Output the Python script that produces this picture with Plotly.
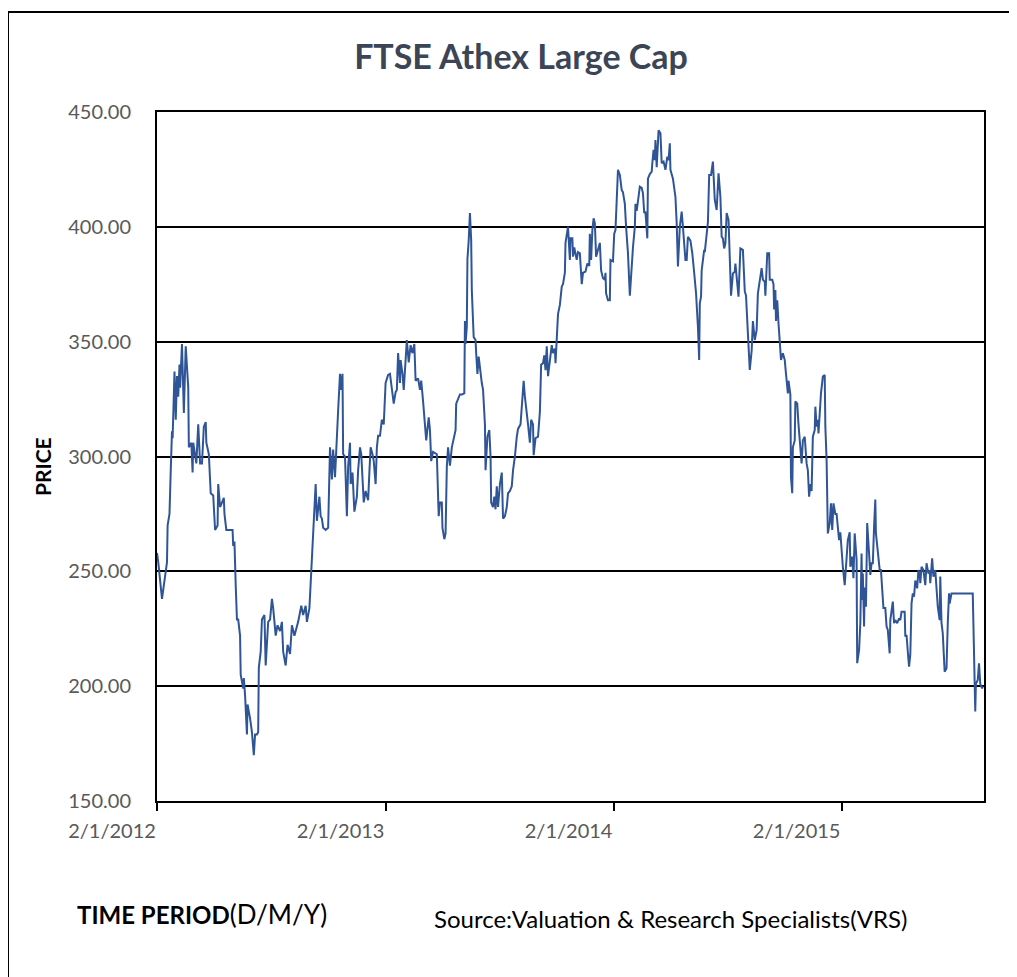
import pandas as pd
import plotly.graph_objects as go

START_DATE = "2012-01-02"
# trading-day positions as calendar days since 2 Jan 2012
day_offset = [
    0, 2, 8, 16, 17, 20, 22, 24, 25, 28, 30, 32, 34, 36, 37, 40, 43, 46, 50, 51,
    55, 57, 58, 63, 66, 69, 72, 75, 78, 79, 83, 86, 90, 93, 97, 98, 101, 107, 108, 111,
    117, 121, 122, 124, 126, 128, 130, 133, 134, 138, 139, 141, 144, 145, 149, 152, 155, 157, 160, 162,
    163, 166, 168, 172, 174, 178, 181, 184, 186, 190, 193, 197, 200, 202, 206, 209, 213, 216, 220, 226,
    231, 234, 238, 240, 244, 246, 248, 251, 254, 256, 260, 262, 264, 266, 270, 274, 275, 277, 280, 282,
    285, 288, 290, 293, 295, 297, 298, 301, 304, 306, 309, 310, 313, 316, 320, 322, 325, 327, 329, 331,
    334, 338, 340, 342, 345, 347, 350, 352, 354, 357, 360, 363, 366, 370, 373, 375, 379, 382, 384, 386,
    389, 390, 393, 395, 398, 400, 403, 406, 409, 412, 414, 418, 421, 423, 426, 429, 431, 435, 437, 439,
    442, 448, 450, 451, 453, 456, 457, 460, 462, 464, 466, 469, 472, 477, 478, 479, 482, 485, 488, 492,
    493, 494, 496, 497, 499, 501, 503, 504, 507, 510, 511, 513, 515, 518, 520, 522, 525, 526, 529, 532,
    534, 535, 538, 540, 542, 544, 546, 549, 552, 554, 557, 560, 562, 565, 568, 570, 573, 576, 578, 582,
    585, 587, 589, 591, 594, 597, 599, 602, 603, 606, 610, 613, 615, 618, 620, 622, 624, 626, 629, 632,
    634, 637, 638, 640, 642, 645, 648, 650, 653, 654, 658, 661, 662, 665, 666, 668, 672, 674, 677, 680,
    682, 686, 689, 692, 693, 695, 697, 699, 701, 703, 706, 709, 711, 714, 717, 718, 719, 722, 725, 726,
    730, 732, 734, 737, 738, 741, 744, 746, 749, 751, 754, 757, 759, 762, 765, 766, 768, 770, 773, 776,
    778, 780, 782, 785, 786, 789, 792, 793, 795, 797, 798, 800, 802, 803, 806, 808, 811, 814, 817, 819,
    821, 822, 826, 829, 830, 832, 834, 837, 840, 842, 846, 848, 850, 854, 857, 860, 863, 866, 868, 869,
    871, 872, 876, 877, 880, 882, 884, 887, 890, 893, 896, 899, 902, 904, 906, 908, 910, 912, 915, 917,
    919, 922, 925, 926, 929, 931, 934, 938, 941, 943, 946, 949, 952, 954, 957, 960, 962, 965, 968, 970,
    973, 974, 976, 977, 980, 981, 985, 987, 988, 990, 991, 993, 995, 997, 999, 1002, 1005, 1007, 1010, 1011,
    1014, 1015, 1017, 1018, 1021, 1022, 1025, 1027, 1029, 1032, 1034, 1037, 1040, 1042, 1044, 1046, 1048, 1050, 1053, 1054,
    1056, 1058, 1059, 1061, 1063, 1066, 1069, 1070, 1072, 1074, 1077, 1079, 1081, 1083, 1086, 1088, 1092, 1094, 1095, 1098,
    1101, 1104, 1106, 1109, 1110, 1113, 1115, 1117, 1120, 1121, 1124, 1126, 1128, 1129, 1130, 1132, 1133, 1135, 1137, 1140,
    1142, 1144, 1146, 1148, 1150, 1151, 1154, 1157, 1159, 1161, 1163, 1166, 1168, 1170, 1173, 1174, 1178, 1180, 1182, 1185,
    1188, 1190, 1192, 1195, 1197, 1198, 1200, 1202, 1204, 1206, 1208, 1210, 1212, 1214, 1217, 1219, 1221, 1222, 1224, 1227,
    1230, 1232, 1235, 1237, 1238, 1241, 1243, 1246, 1248, 1250, 1253, 1254, 1256, 1258, 1261, 1264, 1266, 1268, 1269, 1272,
    1306, 1309, 1310, 1311, 1314, 1316, 1318, 1321, 1322,
]

price = [
    258, 254, 238, 254, 270, 275, 294, 311, 308, 337, 316, 335, 326, 340, 330, 349, 319, 348, 330, 304,
    306, 293, 306, 297, 314, 297, 297, 313, 315, 306, 301, 284, 283, 268, 270, 288, 278, 282, 275, 268,
    268, 268, 261, 263, 244, 229, 229, 222, 205, 199, 203.5, 196, 179, 192, 186, 180, 170, 179, 179, 180,
    208, 215, 229, 231, 209, 228, 229, 238, 234, 222, 226.5, 224, 228, 215, 209, 218, 214, 226.5, 222, 228,
    235, 231, 235, 228, 234, 246, 251, 272, 288, 272, 282.5, 274, 273, 269, 268, 269, 284, 304, 290, 303,
    291, 313, 320, 336, 329, 336, 301, 300, 274, 295.5, 306, 288, 293, 276, 282.5, 294, 304, 301, 290, 280,
    285, 281, 293, 304, 301, 298, 288, 304, 309, 309, 316, 314, 332, 335.5, 336, 332, 323, 328, 329, 345,
    332, 342, 336, 329, 340.5, 350.7, 341, 348.5, 345, 349, 333, 334, 329, 333, 324, 314, 307, 317, 311.5, 298,
    302, 301, 280, 274, 280, 280, 269, 264, 266.5, 295.5, 304, 296, 304, 310, 311.5, 323, 325, 327, 327, 327.5,
    359, 349, 356.5, 386, 394, 406, 394, 372.5, 352, 350.7, 345, 336, 343.5, 336, 332, 329, 314, 294, 308.6, 311.5,
    300, 280, 278, 282.5, 277, 287, 278, 288, 293, 273, 274, 278, 284, 285, 287, 294, 300, 308.6, 312, 314,
    327.5, 333, 326, 320, 314, 306, 316, 314, 300.6, 308, 308.6, 319.5, 340, 340.6, 344, 337.6, 348, 335, 342, 348.5,
    345, 347, 340.6, 355, 362, 366, 374, 375, 380, 393, 400, 385.6, 395, 395, 387, 391, 385.6, 389, 388.5, 375,
    380, 380.5, 384, 383, 397, 385.6, 398.6, 403.7, 401.5, 387, 390, 393, 381, 377.6, 377, 380, 371, 368, 368, 385.6,
    385, 397, 398.6, 414.6, 424.8, 422.6, 416, 415, 410, 400, 388.5, 370, 381, 391, 400, 410, 407, 411, 417.5, 417,
    414.6, 406, 406.6, 395, 421, 423, 424, 427.7, 433.5, 429, 437.8, 426, 435.6, 442, 440.7, 427.7, 428.4, 424.8, 430.6, 429,
    436.4, 424.8, 421, 416, 413, 401.5, 382.7, 400, 406.6, 400, 385.6, 385.6, 395.7, 394, 388.5, 380, 371, 356.5, 342, 366.7,
    369.6, 381, 390, 389, 398.6, 402, 422.6, 422.6, 428.4, 411.7, 407.3, 423.3, 413, 395.7, 395, 390.6, 392.8, 406, 403, 385.6,
    370, 379.7, 380.5, 384, 374, 369.6, 390.6, 390, 372, 370, 353.6, 337.7, 346, 359, 350.7, 355, 371, 377, 382, 377,
    376, 370, 380, 388.5, 388.5, 377, 377, 375, 364, 372.5, 359, 368, 358, 350.7, 342, 345, 342, 336, 327.5, 333,
    327, 291, 284, 304, 307, 324, 323, 314, 306, 297, 307, 308.6, 297, 294, 282.5, 288, 285, 308.6, 311.5, 321.7,
    313, 316, 310, 319, 327.5, 334.8, 335.5, 313, 298.5, 266.5, 271, 279.6, 268, 279.6, 275, 275, 263.6, 267, 262, 252,
    244, 256.4, 263.6, 267, 252, 256.4, 247, 266.5, 255, 210, 215.7, 227.4, 257.8, 237.5, 249, 226, 243, 234.6, 271, 257.8,
    248.4, 253.5, 253.5, 269.4, 281.3, 266.5, 257.8, 250.6, 250.6, 243, 234, 234, 226, 224.5, 214.3, 228.8, 236.8, 227.4, 228.8, 227.4,
    229.5, 228.8, 232.4, 232.4, 232.4, 221.6, 222.3, 215, 208.5, 213.6, 236, 240.4, 239, 246, 242.6, 250.6, 249, 244.8, 252, 250.6,
    244, 253.5, 249, 250.6, 244.8, 255.7, 247.7, 250.6, 243.3, 234.6, 228.8, 247.7, 227.4, 223, 206.3, 207.8, 227.4, 240.4, 236, 240.4,
    240.4, 205.6, 189, 201, 202.7, 210, 201, 199, 200,
]

tick_dates = ["2012-01-02", "2013-01-02", "2014-01-02", "2015-01-02"]
tick_labels = ["2/1/2012", "2/1/2013", "2/1/2014", "2/1/2015"]
y_ticks = [150, 200, 250, 300, 350, 400, 450]

dates = pd.Timestamp(START_DATE) + pd.to_timedelta(day_offset, unit="D")

FONT = "Lato"
GRAY = "#595959"

# page body has an 8px margin; plot area targets screen x 157..984, y 112..801
W, H = 1009, 969
OFF = 8
PL, PR, PT, PB = 157, 984, 112, 801


def px(x):
    return (x - PL) / (PR - PL)


def py(y):
    return (PB - y) / (PB - PT)


fig = go.Figure()
fig.add_trace(go.Scatter(
    x=dates, y=price, mode="lines",
    line=dict(color="#2F5597", width=2),
    showlegend=False, hoverinfo="x+y",
))

fig.update_layout(
    width=W, height=H,
    margin=dict(l=PL - OFF, r=OFF + W - PR, t=PT - OFF, b=OFF + H - PB),
    paper_bgcolor="white", plot_bgcolor="white",
    title=dict(
        text="<b>FTSE Athex Large Cap</b>",
        x=(521 - OFF) / W, xref="container", xanchor="center",
        y=1 - (57 - OFF) / H, yref="container", yanchor="middle",
        font=dict(family=FONT, size=34, color="#3B4556"),
    ),
    xaxis=dict(
        type="date",
        range=["2012-01-02", "2015-08-18"],
        tickvals=tick_dates, ticktext=tick_labels,
        ticks="outside", ticklen=8, tickwidth=1.5, tickcolor="black",
        ticklabelshift=-45, ticklabelstandoff=3,
        showgrid=False, zeroline=False,
        showline=True, linecolor="black", linewidth=1.5, mirror=True,
        tickfont=dict(family=FONT, size=20, color=GRAY),
    ),
    yaxis=dict(
        range=[150, 450],
        tickvals=y_ticks, tickformat=".2f",
        ticks="", ticklabelstandoff=20,
        showgrid=True, gridcolor="black", gridwidth=1.5,
        zeroline=False,
        showline=True, linecolor="black", linewidth=2, mirror=True,
        tickfont=dict(family=FONT, size=20, color=GRAY),
    ),
    annotations=[
        dict(text="<b>PRICE</b>", x=px(42), y=py(467),
             xref="paper", yref="paper", textangle=-90, showarrow=False,
             xanchor="center", yanchor="middle",
             font=dict(family=FONT, size=21, color="black")),
        dict(text="<b>TIME PERIOD</b><span style='font-size:26px'>(D/M/Y)</span>",
             x=px(75), y=py(914),
             xref="paper", yref="paper", showarrow=False,
             xanchor="left", yanchor="middle",
             font=dict(family=FONT, size=24, color="black")),
        dict(text="Source:Valuation &amp; Research Specialists(VRS)", x=px(432),
             y=py(918), xref="paper", yref="paper", showarrow=False,
             xanchor="left", yanchor="middle",
             font=dict(family=FONT, size=24, color="black")),
    ],
    shapes=[
        dict(type="rect", xref="paper", yref="paper",
             x0=px(8), x1=px(1040),
             y0=py(1000), y1=py(12),
             line=dict(color="black", width=2), fillcolor="rgba(0,0,0,0)",
             layer="below"),
    ],
)

fig.write_html("out.html")
